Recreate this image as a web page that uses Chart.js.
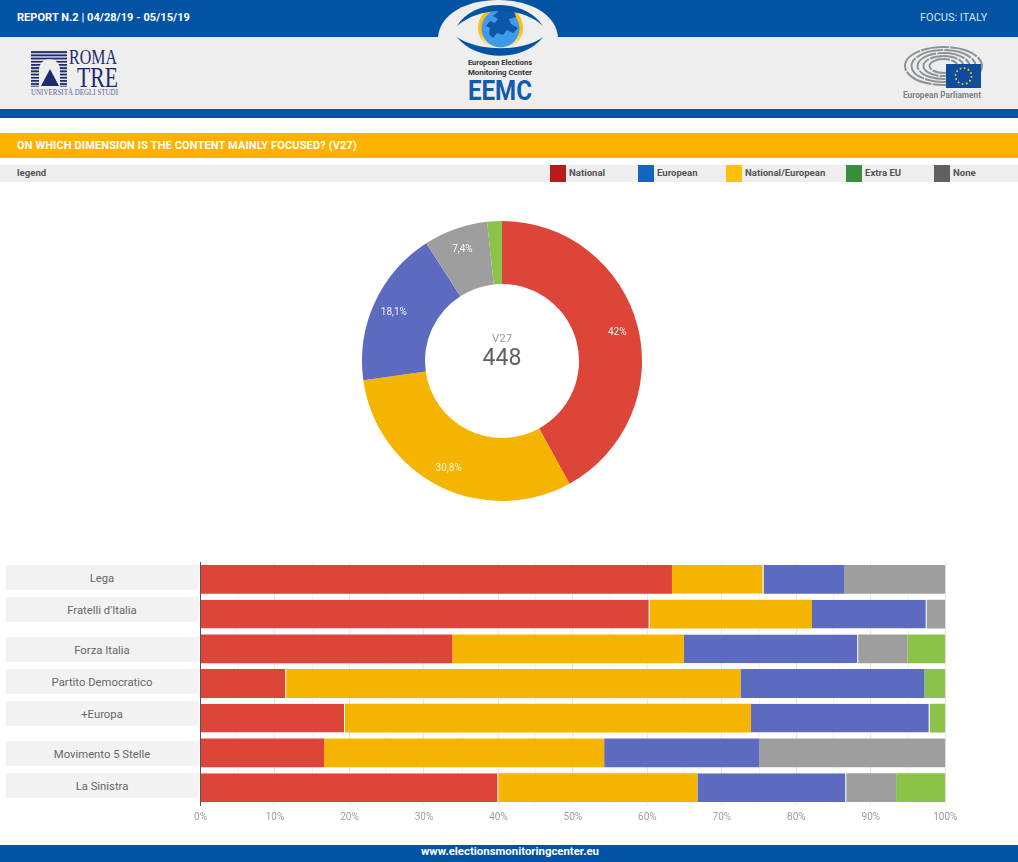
<!DOCTYPE html>
<html>
<head>
<meta charset="utf-8">
<script src="https://cdn.jsdelivr.net/npm/chart.js@4"></script>
<style>
  html, body { margin: 0; padding: 0; background: #fff; }
  body { position: relative; width: 1018px; height: 862px; overflow: hidden; font-family: Roboto, sans-serif; }
  .abs { position: absolute; }
  .band { position: absolute; left: 0; width: 1018px; }
  .txt { position: absolute; white-space: nowrap; font-size: 11px; line-height: 14px; }
  .sw { position: absolute; top: 165px; width: 16px; height: 17px; }
  .lg { position: absolute; top: 167px; font-size: 9.6px; font-weight: 700; line-height: 12px; color: #555; white-space: nowrap; }
  .rowlabel { position: absolute; left: 6px; width: 193px; height: 25px; line-height: 27px; background: #f2f2f2; color: #666; font-size: 11.3px; text-align: center; text-indent: -1px; }
  canvas { position: absolute; }
</style>
</head>
<body>
<div class="band" style="top:0;height:37px;background:#0353a4"></div>
<div class="band" style="top:37px;height:72px;background:#eeeeee"></div>
<div class="band" style="top:109px;height:9px;background:#0353a4"></div>
<div class="band" style="top:133px;height:25px;background:#ffb300"></div>
<div class="band" style="top:165px;height:17px;background:#eeeeee"></div>
<div class="band" style="top:845px;height:17px;background:#0353a4"></div>

<div class="txt" style="left:17px;top:11px;color:#fff;font-weight:700;letter-spacing:.05px">REPORT N.2 | 04/28/19 - 05/15/19</div>
<div class="txt" style="left:920px;top:11px;color:#d5e3f3">FOCUS: ITALY</div>
<div class="txt" style="left:17px;top:139px;color:#fff;font-weight:700;letter-spacing:.13px">ON WHICH DIMENSION IS THE CONTENT MAINLY FOCUSED? (V27)</div>
<div class="lg" style="left:17px">legend</div>
<div class="txt" style="left:0;width:1018px;text-align:center;top:844px;color:#fff;font-weight:700;font-size:11.4px;text-indent:2px">www.electionsmonitoringcenter.eu</div>

<!-- Roma Tre logo -->
<svg class="abs" style="left:28px;top:48px" width="92" height="50" viewBox="0 0 92 50">
  <defs>
    <pattern id="stripes" width="4" height="3.2" patternUnits="userSpaceOnUse">
      <rect width="4" height="1.9" fill="#1f2a6e"/>
    </pattern>
  </defs>
  <rect x="3" y="3" width="36" height="36" fill="url(#stripes)"/>
  <path d="M11 40 L11 21 C12 8 31 8 32 21 L32 40 Z" fill="#eeeeee"/>
  <path d="M22 21 L31 38 L13 38 Z" fill="#1f2a6e"/>
  <text x="41" y="16" font-family="Liberation Serif" font-size="20" fill="#1f2a6e" textLength="48" lengthAdjust="spacingAndGlyphs">ROMA</text>
  <text x="49" y="39" font-family="Liberation Serif" font-size="30" fill="#1f2a6e" textLength="41" lengthAdjust="spacingAndGlyphs">TRE</text>
  <text x="3" y="47" font-family="Liberation Serif" font-size="7.5" fill="#5a639a" textLength="87" lengthAdjust="spacingAndGlyphs">UNIVERSITÀ DEGLI STUDI</text>
</svg>

<!-- EEMC logo -->
<svg class="abs" style="left:430px;top:0" width="136" height="109" viewBox="0 0 136 109">
  <defs>
    <linearGradient id="ringFade" x1="0" y1="0" x2="0" y2="1">
      <stop offset="0.1" stop-color="#fbbf16"/>
      <stop offset="0.6" stop-color="#fbbf16"/>
      <stop offset="0.95" stop-color="#fbbf16" stop-opacity="0"/>
    </linearGradient>
  </defs>
  <path d="M8 37 C10 14 36 0 68 0 C100 0 126 14 128 37 L128 109 L8 109 Z" fill="#eeeeee"/>
  <circle cx="70.5" cy="28" r="22.5" fill="url(#ringFade)"/>
  <circle cx="70.5" cy="28.5" r="19" fill="#3f9be8"/>
  <path d="M70 10 L84 11 L86 17 L79 19 L81 24 L88 28 L83 33 L77 30 L73 35 L67 33 L63 38 L59 34 L60 28 L56 26 L60 21 L65 23 L68 19 L63 16 Z" fill="#0e56a8"/>
  <path d="M27 26 C44 -2 94 -2 113 26 C92 6 50 6 27 26 Z" fill="#0353a4"/>
  <path d="M27 37 C46 62 94 62 113 37 C94 52 48 52 27 37 Z" fill="#0353a4"/>
  <text x="70" y="65" text-anchor="middle" font-size="7.5" font-weight="700" fill="#333" textLength="64" lengthAdjust="spacingAndGlyphs">European Elections</text>
  <text x="70" y="75" text-anchor="middle" font-size="7.5" font-weight="700" fill="#333" textLength="64" lengthAdjust="spacingAndGlyphs">Monitoring Center</text>
  <text x="70" y="100" text-anchor="middle" font-size="28" font-weight="700" fill="#0f5cab" textLength="64" lengthAdjust="spacingAndGlyphs">EEMC</text>
</svg>

<!-- European Parliament logo -->
<svg class="abs" style="left:900px;top:42px" width="86" height="62" viewBox="0 0 86 62">
  <g fill="none" stroke="#8d9499" stroke-width="2" stroke-dasharray="28 1.2">
    <ellipse cx="43.5" cy="24" rx="38.5" ry="19"/>
    <ellipse cx="43.5" cy="24" rx="32" ry="16"/>
    <ellipse cx="43.5" cy="24" rx="26" ry="13"/>
    <ellipse cx="43.5" cy="24" rx="20" ry="10"/>
    <ellipse cx="43.5" cy="24" rx="14" ry="7"/>
  </g>
  <rect x="46" y="22" width="35" height="24" fill="#0f4c9c"/>
  <circle cx="63.5" cy="34" r="8" fill="none" stroke="#f5d90a" stroke-width="1.7" stroke-dasharray="1.7 2.49"/>
  <text x="3" y="56" font-size="9" font-weight="700" fill="#7d848a" textLength="78" lengthAdjust="spacingAndGlyphs">European Parliament</text>
</svg>

<div id="legend"></div>
<div id="rowlabels"></div>

<canvas id="donutChart" style="left:352px;top:211px" width="300" height="300"></canvas>
<div class="txt" style="left:452px;width:100px;text-align:center;top:331px;color:#9e9e9e;font-size:11.5px">V27</div>
<div class="txt" style="left:452px;width:100px;text-align:center;top:346px;color:#616161;font-size:23px;line-height:24px">448</div>

<canvas id="barChart" style="left:0;top:550px" width="1018" height="285"></canvas>

<script>
const legendNames = ['National', 'European', 'National/European', 'Extra EU', 'None'];
const legendColors = ['#b71c1c', '#1565c0', '#ffc107', '#388e3c', '#616161'];
const legendX = [550, 638, 726, 846, 934];

const sliceNames = ['National', 'National/European', 'European', 'None', 'Extra EU'];
const sliceValues = [42, 30.8, 18.1, 7.4, 1.7];
const sliceLabels = ['42%', '30,8%', '18,1%', '7,4%', ''];
const sliceColors = ['#dd4539', '#f5b400', '#5c6bc0', '#9e9e9e', '#8bc34a'];

const parties = ['Lega', "Fratelli d'Italia", 'Forza Italia', 'Partito Democratico', '+Europa', 'Movimento 5 Stelle', 'La Sinistra'];
const labelTops = [565, 597, 637, 669, 701, 741, 773];
const national = [63.3, 60.3, 33.8, 11.5, 19.4, 16.6, 40];
const natEuropean = [12.3, 21.8, 31.1, 61, 54.5, 37.6, 26.7];
const european = [10.8, 15.4, 23.4, 24.7, 24, 20.8, 20];
const none = [13.6, 2.5, 6.6, 0, 0, 25, 6.7];
const extraEu = [0, 0, 5.1, 2.8, 2.1, 0, 6.6];

// Rows whose segment ends in a thin white seam in the original
const nationalSeams = [1, 3, 4, 6];
const natEuropeanSeams = [0];
const europeanSeams = [1, 2, 4, 6];

// Legend strip and the label boxes on the left of the bars
legendNames.forEach((name, i) => {
    document.getElementById('legend').innerHTML +=
        `<div class="sw" style="left:${legendX[i]}px;background:${legendColors[i]}"></div>` +
        `<div class="lg" style="left:${legendX[i] + 19}px">${name}</div>`;
});
parties.forEach((name, i) => {
    const box = document.createElement('div');
    box.className = 'rowlabel';
    box.style.top = labelTops[i] + 'px';
    box.textContent = name;
    document.getElementById('rowlabels').appendChild(box);
});

// Percent labels on the slices
const sliceLabelPlugin = {
    id: 'sliceLabels',
    afterDatasetsDraw(chart) {
        const ctx = chart.ctx;
        ctx.save();
        ctx.fillStyle = 'rgba(255,255,255,0.9)';
        ctx.font = '10px Roboto';
        ctx.textAlign = 'center';
        ctx.textBaseline = 'middle';
        chart.getDatasetMeta(0).data.forEach((arc, i) => {
            const mid = (arc.startAngle + arc.endAngle) / 2;
            const r = arc.outerRadius * 0.85;
            ctx.fillText(sliceLabels[i], arc.x + Math.cos(mid) * r, arc.y + Math.sin(mid) * r + 1);
        });
        ctx.restore();
    }
};

new Chart(document.getElementById('donutChart'), {
    type: 'doughnut',
    data: {
        labels: sliceNames,
        datasets: [{ data: sliceValues, backgroundColor: sliceColors, borderWidth: 0 }]
    },
    options: {
        responsive: false,
        animation: false,
        cutout: '55%',
        layout: { padding: 10 },
        plugins: { legend: { display: false }, tooltip: { enabled: false } }
    },
    plugins: [sliceLabelPlugin]
});

function barSet(label, data, color, seams) {
    return {
        label,
        data,
        backgroundColor: color,
        borderColor: '#fff',
        borderWidth: c => ({ right: seams.includes(c.dataIndex) ? 1 : 0 }),
        barPercentage: 0.83,
        categoryPercentage: 1
    };
}

new Chart(document.getElementById('barChart'), {
    type: 'bar',
    data: {
        labels: parties,
        datasets: [
            barSet('National', national, sliceColors[0], nationalSeams),
            barSet('National/European', natEuropean, sliceColors[1], natEuropeanSeams),
            barSet('European', european, sliceColors[2], europeanSeams),
            barSet('None', none, sliceColors[3], []),
            barSet('Extra EU', extraEu, sliceColors[4], [])
        ]
    },
    options: {
        indexAxis: 'y',
        responsive: false,
        animation: false,
        layout: { padding: { left: 200.5, right: 72.7, top: 12, bottom: 0 } },
        scales: {
            x: {
                stacked: true,
                min: 0,
                max: 100,
                afterFit: scale => { scale.height = 30; },
                border: { display: false },
                grid: {
                    drawTicks: false,
                    color: c => (c.tick.value % 10 === 0 ? '#e6e6e6' : '#f3f3f3')
                },
                ticks: {
                    stepSize: 5,
                    autoSkip: false,
                    maxRotation: 0,
                    padding: 6,
                    color: '#9e9e9e',
                    font: { family: 'Roboto', size: 10 },
                    callback: v => (v % 10 === 0 ? v + '%' : '')
                }
            },
            y: {
                stacked: true,
                afterFit: scale => { scale.width = 0; },
                border: { display: true, color: '#555', z: 1 },
                grid: { display: false },
                ticks: { display: false }
            }
        },
        plugins: { legend: { display: false }, tooltip: { enabled: false } }
    }
});
</script>
</body>
</html>
